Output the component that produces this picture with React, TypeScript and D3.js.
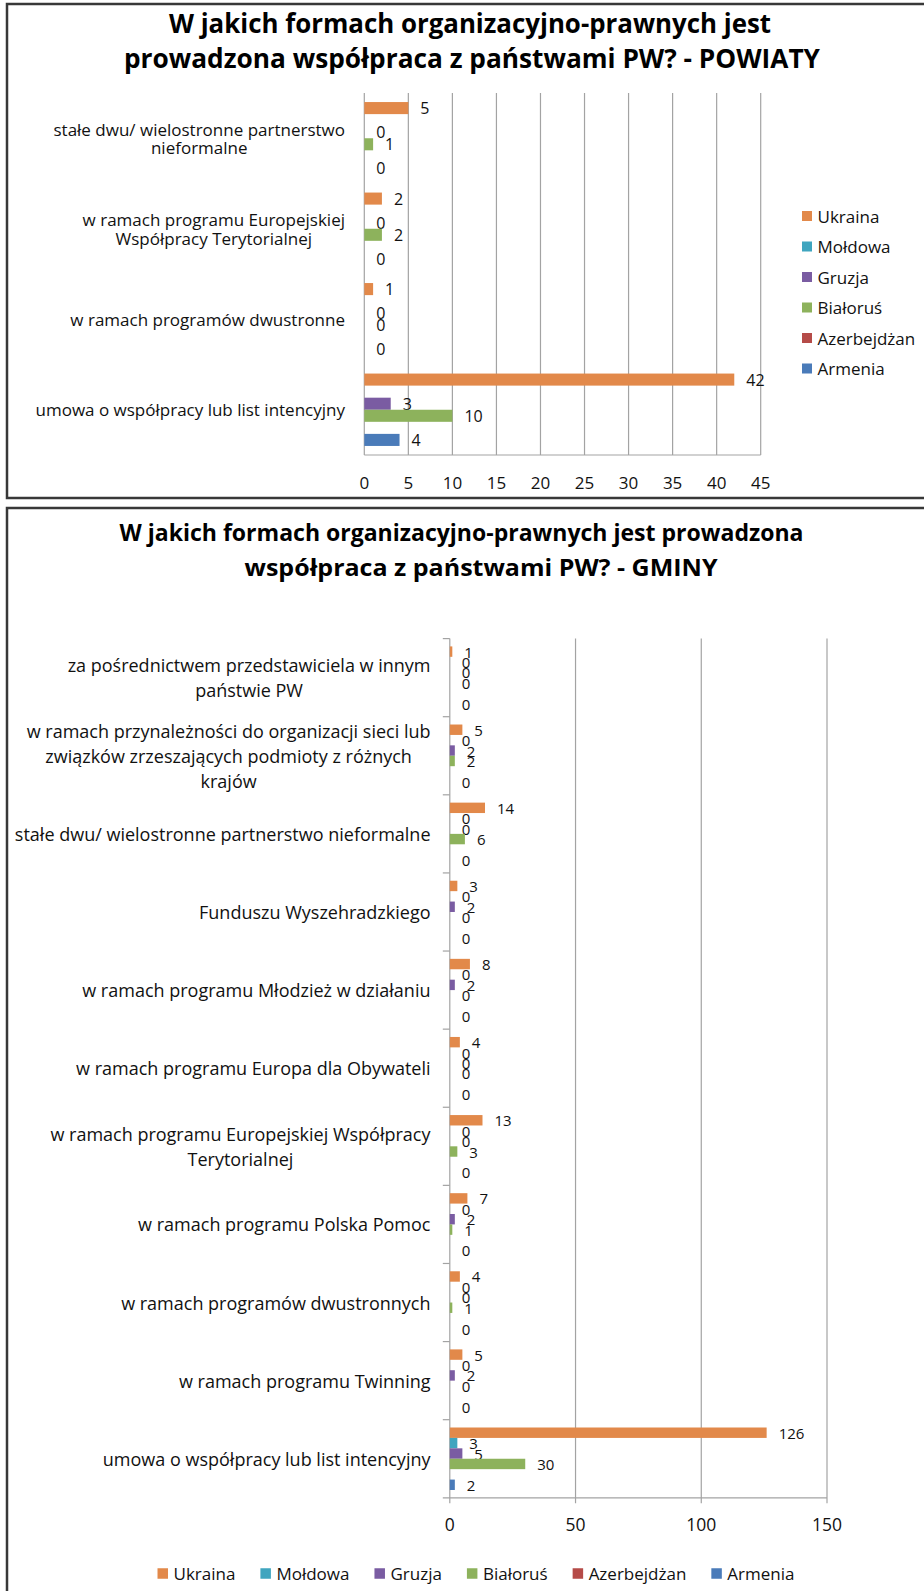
import { useEffect, useRef } from 'react';
import * as d3 from 'd3';

const WIDTH = 924;
const HEIGHT = 1591;

const series = ['Ukraina', 'Mołdowa', 'Gruzja', 'Białoruś', 'Azerbejdżan', 'Armenia'];
const seriesColors = ['#E2894A', '#3FA5BF', '#7A5CA2', '#8DB25C', '#B54B48', '#4A7BB9'];

// POWIATY (top chart), categories top to bottom
const powiatyCategories = [
  'stałe dwu/ wielostronne partnerstwo\nnieformalne',
  'w ramach programu Europejskiej\nWspółpracy Terytorialnej',
  'w ramach programów dwustronne',
  'umowa o współpracy lub list intencyjny',
];
const powiatyUkraina = [5, 2, 1, 42];
const powiatyMoldowa = [null, null, null, null];
const powiatyGruzja = [0, 0, 0, 3];
const powiatyBialorus = [1, 2, 0, 10];
const powiatyAzerbejdzan = [null, null, null, null];
const powiatyArmenia = [0, 0, 0, 4];
const powiatyTicks = [0, 5, 10, 15, 20, 25, 30, 35, 40, 45];

// GMINY (bottom chart), categories top to bottom
const gminyCategories = [
  'za pośrednictwem przedstawiciela w innym\npaństwie PW',
  'w ramach przynależności do organizacji sieci lub\nzwiązków zrzeszających podmioty z różnych\nkrajów',
  'stałe dwu/ wielostronne partnerstwo nieformalne',
  'Funduszu Wyszehradzkiego',
  'w ramach programu Młodzież w działaniu',
  'w ramach programu Europa dla Obywateli',
  'w ramach programu Europejskiej Współpracy\nTerytorialnej',
  'w ramach programu Polska Pomoc',
  'w ramach programów dwustronnych',
  'w ramach programu Twinning',
  'umowa o współpracy lub list intencyjny',
];
const gminyUkraina = [1, 5, 14, 3, 8, 4, 13, 7, 4, 5, 126];
const gminyMoldowa = [0, 0, 0, 0, 0, 0, 0, 0, 0, 0, 3];
const gminyGruzja = [0, 2, 0, 2, 2, 0, 0, 2, 0, 2, 5];
const gminyBialorus = [0, 2, 6, 0, 0, 0, 3, 1, 1, 0, 30];
const gminyAzerbejdzan = [null, null, null, null, null, null, null, null, null, null, null];
const gminyArmenia = [0, 0, 0, 0, 0, 0, 0, 0, 0, 0, 2];
const gminyTicks = [0, 50, 100, 150];

const GRID = '#A3A3A3';
const TEXT = '#111';
const FONT = "'Open Sans', sans-serif";

const drawChart = (svg, o) => {
  const x = d3.scaleLinear().domain([0, o.max]).range([o.left, o.right]);
  const y = d3.scaleBand().domain(o.categories).range([o.top, o.bottom])
    .paddingInner(0.2).paddingOuter(0.1);
  const ys = d3.scaleBand().domain(series).range([0, y.bandwidth()]);

  // gridlines
  svg.append('g').selectAll('line').data(o.ticks.slice(1)).join('line')
    .attr('x1', d => x(d)).attr('x2', d => x(d))
    .attr('y1', o.top).attr('y2', o.bottom + o.tickLen)
    .attr('stroke', GRID).attr('stroke-width', 1.2);

  // axes
  svg.append('line').attr('x1', x(0)).attr('x2', x(0))
    .attr('y1', o.top).attr('y2', o.bottom + o.tickLen)
    .attr('stroke', GRID).attr('stroke-width', 1.2);
  svg.append('line').attr('x1', x(0) - o.catTickLen).attr('x2', x(o.max))
    .attr('y1', o.bottom).attr('y2', o.bottom)
    .attr('stroke', GRID).attr('stroke-width', 1.2);

  if (o.catTickLen > 0) {
    const bounds = o.categories.map(c => y(c) - y.step() * 0.1);
    svg.append('g').selectAll('line').data(bounds).join('line')
      .attr('x1', x(0) - o.catTickLen).attr('x2', x(0))
      .attr('y1', d => d).attr('y2', d => d)
      .attr('stroke', GRID).attr('stroke-width', 1.2);
  }

  // tick labels
  svg.append('g').selectAll('text').data(o.ticks).join('text')
    .attr('x', d => x(d)).attr('y', o.tickLabelY)
    .attr('text-anchor', 'middle').attr('dominant-baseline', 'central')
    .attr('font-family', FONT).attr('font-size', o.tickFont).attr('fill', TEXT)
    .text(d => d);

  // bars and data labels
  series.forEach((s, si) => {
    const vals = o.values[si];
    const pts = o.categories.map((c, i) => ({ c, v: vals[i] })).filter(d => d.v !== null);
    const g = svg.append('g');
    g.selectAll('rect').data(pts).join('rect')
      .attr('x', x(0)).attr('y', d => y(d.c) + ys(s))
      .attr('width', d => x(d.v) - x(0)).attr('height', ys.bandwidth())
      .attr('fill', seriesColors[si]);
    g.selectAll('text').data(pts).join('text')
      .attr('x', d => x(d.v) + 12).attr('y', d => y(d.c) + ys(s) + ys.bandwidth() / 2)
      .attr('dominant-baseline', 'central')
      .attr('font-family', FONT).attr('font-size', o.labelFont).attr('fill', TEXT)
      .text(d => d.v);
  });

  // category labels (multi-line, centered within right-aligned block)
  o.categories.forEach(c => {
    const lines = c.split('\n');
    const cy = y(c) + y.bandwidth() / 2;
    const g = svg.append('g');
    const texts = lines.map((l, i) => g.append('text')
      .attr('y', cy + (i - (lines.length - 1) / 2) * o.lineHeight)
      .attr('text-anchor', 'middle').attr('dominant-baseline', 'central')
      .attr('font-family', FONT).attr('font-size', o.catFont).attr('fill', TEXT)
      .text(l));
    const blockW = d3.max(texts, t => t.node().getComputedTextLength());
    texts.forEach(t => t.attr('x', o.labelRight - blockW / 2));
  });
};

const drawTitle = (svg, lines) => {
  lines.forEach(l => {
    svg.append('text').attr('x', l.cx).attr('y', l.y)
      .attr('text-anchor', 'middle').attr('dominant-baseline', 'central')
      .attr('font-family', FONT).attr('font-weight', 'bold').attr('font-size', l.size)
      .attr('textLength', l.w).attr('lengthAdjust', 'spacingAndGlyphs')
      .attr('fill', '#000').text(l.text);
  });
};

const App = () => {
  const svgRef = useRef(null);

  useEffect(() => {
    document.body.style.margin = '0';
    const svg = d3.select(svgRef.current);
    svg.selectAll('*').remove();

    svg.append('rect').attr('width', WIDTH).attr('height', HEIGHT).attr('fill', '#fff');

    // frames
    svg.append('path').attr('d', 'M940,4 H7 V498 H940')
      .attr('fill', 'none').attr('stroke', '#383838').attr('stroke-width', 2.5);
    svg.append('path').attr('d', 'M940,508 H7 V1620')
      .attr('fill', 'none').attr('stroke', '#383838').attr('stroke-width', 2.5);

    drawTitle(svg, [
      { text: 'W jakich formach organizacyjno-prawnych jest', cx: 470, y: 23, w: 602, size: 26 },
      { text: 'prowadzona współpraca z państwami PW? - POWIATY', cx: 472, y: 57.5, w: 696, size: 26 },
      { text: 'W jakich formach organizacyjno-prawnych jest prowadzona', cx: 461.5, y: 531.5, w: 684, size: 23 },
      { text: 'współpraca z państwami PW? - GMINY', cx: 481, y: 567, w: 473, size: 23 },
    ]);

    drawChart(svg, {
      categories: powiatyCategories,
      values: [powiatyUkraina, powiatyMoldowa, powiatyGruzja, powiatyBialorus, powiatyAzerbejdzan, powiatyArmenia],
      ticks: powiatyTicks,
      max: 45, left: 364.3, right: 760.7, top: 93, bottom: 455,
      tickLen: 0, catTickLen: 0, tickLabelY: 482, tickFont: 17,
      labelFont: 16, catFont: 17, lineHeight: 18.5, labelRight: 345,
    });

    drawChart(svg, {
      categories: gminyCategories,
      values: [gminyUkraina, gminyMoldowa, gminyGruzja, gminyBialorus, gminyAzerbejdzan, gminyArmenia],
      ticks: gminyTicks,
      max: 150, left: 449.8, right: 827, top: 638.6, bottom: 1497.8,
      tickLen: 5.5, catTickLen: 7, tickLabelY: 1524, tickFont: 17.5,
      labelFont: 15, catFont: 18, lineHeight: 25, labelRight: 430.5,
    });

    // top legend (vertical)
    const lg = svg.append('g');
    series.forEach((s, i) => {
      const cy = 216 + i * 30.5;
      lg.append('rect').attr('x', 802).attr('y', cy - 5).attr('width', 10).attr('height', 10)
        .attr('fill', seriesColors[i]);
      lg.append('text').attr('x', 817.5).attr('y', cy).attr('dominant-baseline', 'central')
        .attr('font-family', FONT).attr('font-size', 17).attr('fill', TEXT).text(s);
    });

    // bottom legend (horizontal, centered)
    const bg = svg.append('g');
    const items = series.map((s, i) => {
      const t = bg.append('text').attr('y', 1573.5).attr('dominant-baseline', 'central')
        .attr('font-family', FONT).attr('font-size', 17).attr('fill', TEXT).text(s);
      const r = bg.append('rect').attr('width', 10.5).attr('height', 10.5)
        .attr('y', 1573.5 - 5.25).attr('fill', seriesColors[i]);
      return { t, r, w: t.node().getComputedTextLength() };
    });
    const gap = 25;
    const total = d3.sum(items, d => 10.5 + 5.5 + d.w) + gap * (items.length - 1);
    let cursor = 476 - total / 2;
    items.forEach(d => {
      d.r.attr('x', cursor);
      d.t.attr('x', cursor + 16);
      cursor += 16 + d.w + gap;
    });
  }, []);

  return <svg ref={svgRef} width={WIDTH} height={HEIGHT} style={{ display: 'block' }} />;
};

export default App;
